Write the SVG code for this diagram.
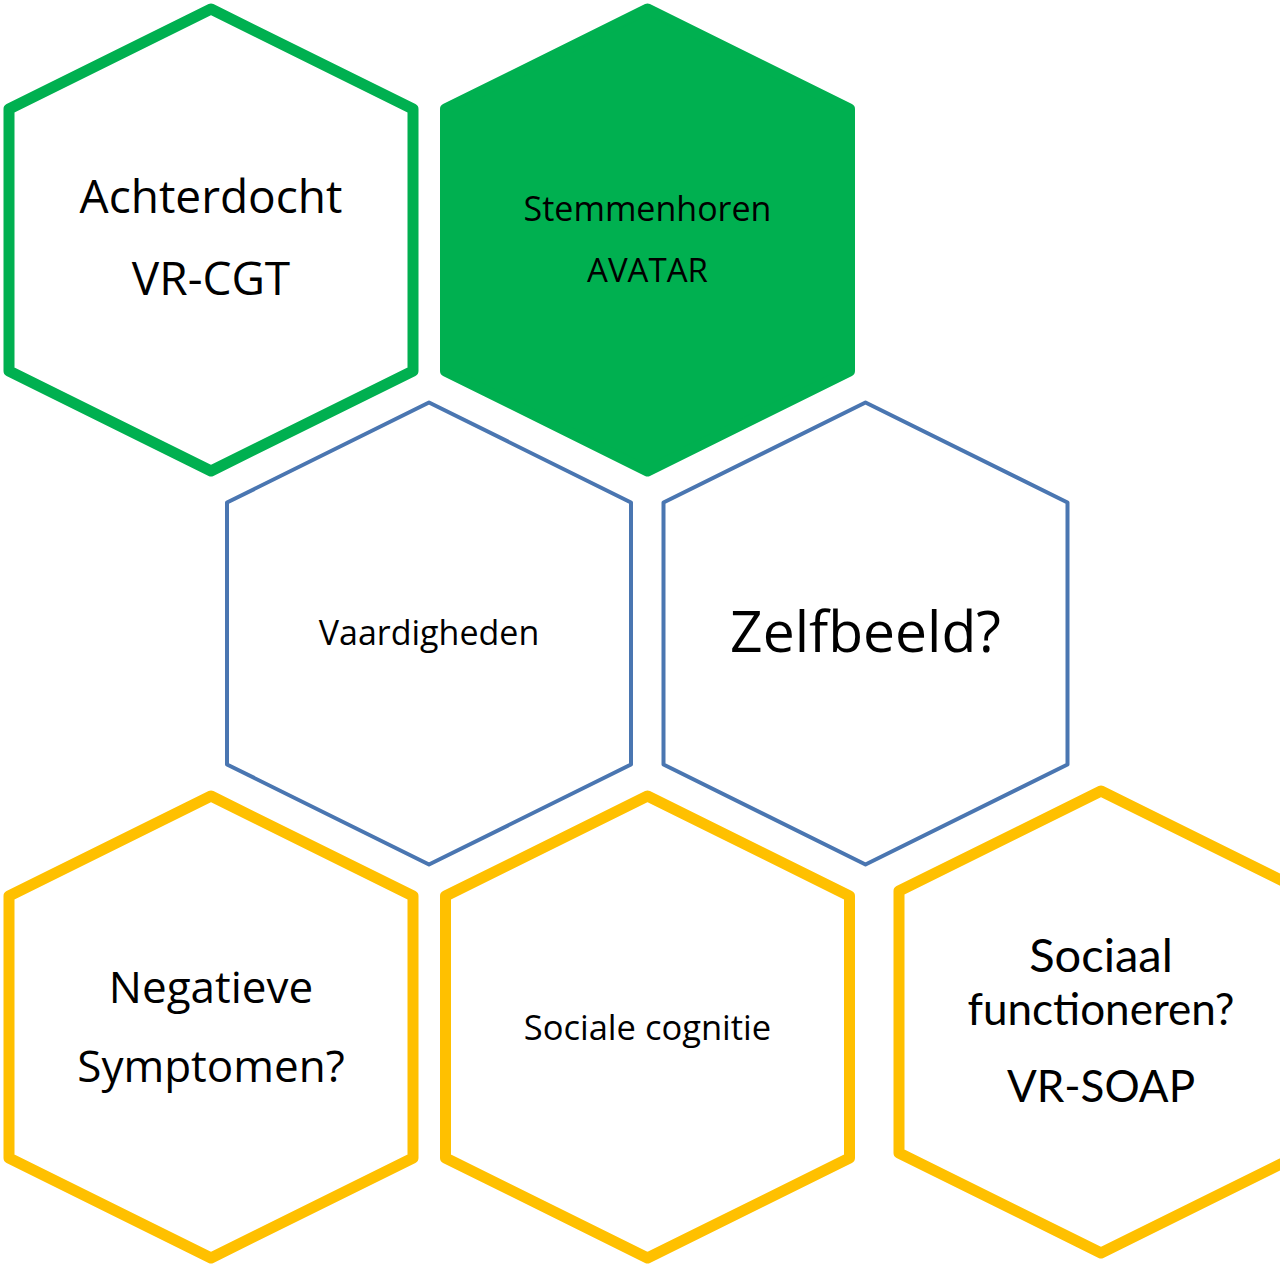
<svg xmlns="http://www.w3.org/2000/svg" xmlns:xlink="http://www.w3.org/1999/xlink" width="1280" height="1268" viewBox="0 0 1280 1268">
<style>
.green{fill:#ffffff;stroke:#00B050;stroke-width:11;stroke-linejoin:round}
.greenfill{fill:#00B050;stroke:#00B050;stroke-width:11;stroke-linejoin:round}
.blue{fill:#ffffff;stroke:#4A76B1;stroke-width:4;stroke-linejoin:round}
.yellow{fill:#ffffff;stroke:#FFC000;stroke-width:11;stroke-linejoin:round}
text{font-family:"Open Sans","Noto Sans",sans-serif;fill:#000000;text-anchor:middle}
.geo{font-family:Lato,"Liberation Sans",sans-serif}
</style>
<defs>
<polygon id="hex" points="0,-231 202,-131 202,131 0,231 -202,131 -202,-131"/>
</defs>
<rect width="1280" height="1268" fill="#ffffff"/>
<g id="n-achterdocht">
<use xlink:href="#hex" href="#hex" x="211" y="240" class="green"/>
<text x="211" y="213" font-size="46">Achterdocht</text>
<text x="211" y="295" font-size="46">VR-CGT</text>
</g>
<g id="n-stemmenhoren">
<use xlink:href="#hex" href="#hex" x="647.5" y="240" class="greenfill"/>
<text x="647.5" y="221" font-size="34">Stemmenhoren</text>
<text x="647.5" y="282" font-size="33">AVATAR</text>
</g>
<g id="n-vaardigheden">
<use xlink:href="#hex" href="#hex" x="429" y="633.5" class="blue"/>
<text x="429" y="645" font-size="34">Vaardigheden</text>
</g>
<g id="n-zelfbeeld">
<use xlink:href="#hex" href="#hex" x="865.5" y="633.5" class="blue"/>
<text x="865.5" y="652" font-size="57">Zelfbeeld?</text>
</g>
<g id="n-negatieve">
<use xlink:href="#hex" href="#hex" x="211" y="1027" class="yellow"/>
<text x="211" y="1003" font-size="44">Negatieve</text>
<text x="211" y="1082" font-size="44">Symptomen?</text>
</g>
<g id="n-sociale-cognitie">
<use xlink:href="#hex" href="#hex" x="647.5" y="1027" class="yellow"/>
<text x="647.5" y="1040" font-size="34.5">Sociale cognitie</text>
</g>
<g id="n-sociaal-functioneren">
<use xlink:href="#hex" href="#hex" x="1101" y="1022" class="yellow"/>
<text class="geo" x="1101" y="972" font-size="47">Sociaal</text>
<text class="geo" x="1101" y="1025" font-size="44">functioneren?</text>
<text class="geo" x="1101" y="1102" font-size="44">VR-SOAP</text>
</g>
<g id="connectors"/>
</svg>
